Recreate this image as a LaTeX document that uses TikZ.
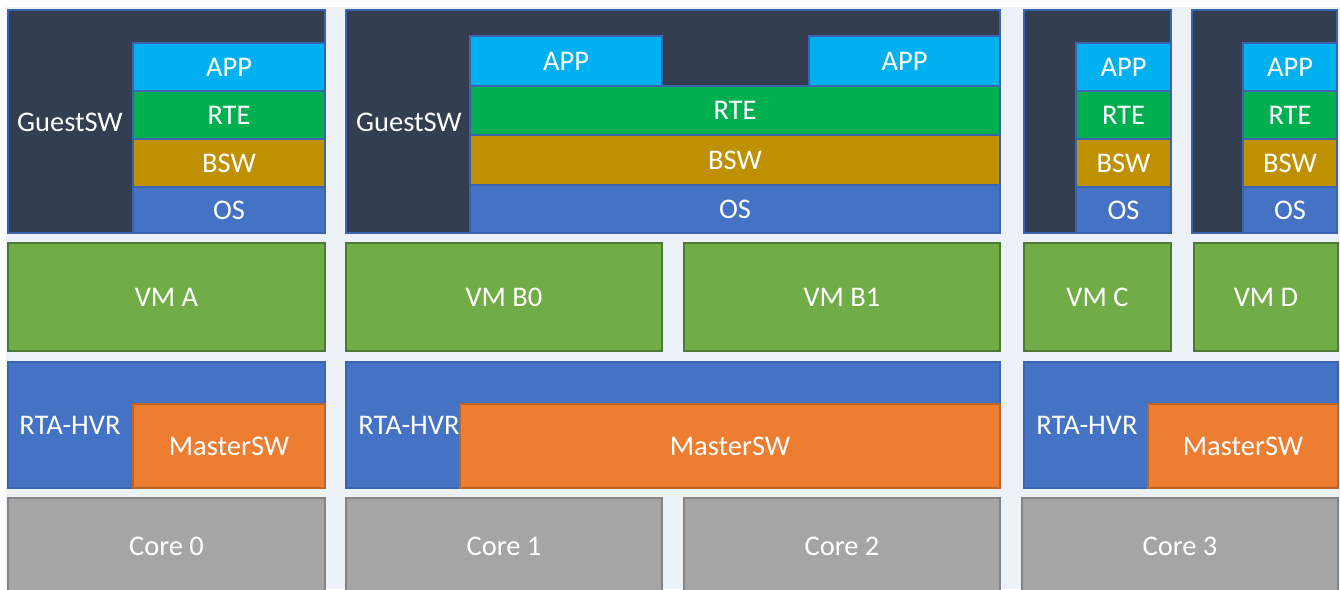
\documentclass[tikz,border=0pt]{standalone}
\usepackage{fontspec}
\setmainfont{Carlito}
\usetikzlibrary{fit}

\definecolor{backg}{HTML}{EDF1F8}
\definecolor{guestbg}{HTML}{333F50}
\definecolor{appc}{HTML}{00B0F0}
\definecolor{rtec}{HTML}{00B050}
\definecolor{bswc}{HTML}{BF9000}
\definecolor{osc}{HTML}{4472C4}
\definecolor{vmc}{HTML}{70AD47}
\definecolor{masterc}{HTML}{ED7D31}
\definecolor{corec}{HTML}{A5A5A5}
\definecolor{blueln}{HTML}{3A64B0}

\tikzset{
  lbl/.style={text=white, inner sep=0pt, font=\fontsize{16.2}{19}\selectfont},
  blk/.style={inner sep=0pt, draw, line width=0.6pt, label={[lbl]center:#1}},
  guest/.style={blk=, fill=guestbg, draw=blueln},
  app/.style={blk=APP, fill=appc, draw=blueln},
  rte/.style={blk=RTE, fill=rtec, draw=blueln},
  bsw/.style={blk=BSW, fill=bswc, draw=blueln},
  os/.style={blk=OS, fill=osc, draw=blueln},
  vm/.style={blk=#1, fill=vmc, draw=vmc!70!black},
  hvr/.style={blk=, fill=osc, draw=blueln},
  master/.style={blk=MasterSW, fill=masterc, draw=masterc!80!black},
  core/.style={blk=#1, fill=corec, draw=corec!80!black}
}

\begin{document}
\begin{tikzpicture}[x=0.02cm, y=-0.02cm]
\useasboundingbox (0,0) rectangle (1340,589);
\fill[white] (0,0) rectangle (1340,589);
\fill[backg] (6,7) rectangle (1340,589);

% guest software
\node[guest, fit={(8,10) (325,233)}] (guestA) {};
\node[lbl] (guestAlbl) at (70,122) {GuestSW};
\node[app, fit={(133,43) (325,91)}] (appA) {};
\node[rte, fit={(133,91) (325,139)}] (rteA) {};
\node[bsw, fit={(133,139) (325,187)}] (bswA) {};
\node[os, fit={(133,187) (325,233)}] (osA) {};

\node[guest, fit={(346,10) (1000,233)}] (guestB) {};
\node[lbl] (guestBlbl) at (409,122) {GuestSW};
\node[app, fit={(470,36) (662,86)}] (appBa) {};
\node[app, fit={(809,36) (1000,86)}] (appBb) {};
\node[rte, fit={(470,86) (1000,135)}] (rteB) {};
\node[bsw, fit={(470,135) (1000,185)}] (bswB) {};
\node[os, fit={(470,185) (1000,233)}] (osB) {};

\node[guest, fit={(1024,10) (1171,233)}] (guestC) {};
\node[app, fit={(1076,43) (1171,91)}] (appC) {};
\node[rte, fit={(1076,91) (1171,139)}] (rteC) {};
\node[bsw, fit={(1076,139) (1171,187)}] (bswC) {};
\node[os, fit={(1076,187) (1171,233)}] (osC) {};

\node[guest, fit={(1192,10) (1337,233)}] (guestD) {};
\node[app, fit={(1243,43) (1337,91)}] (appD) {};
\node[rte, fit={(1243,91) (1337,139)}] (rteD) {};
\node[bsw, fit={(1243,139) (1337,187)}] (bswD) {};
\node[os, fit={(1243,187) (1337,233)}] (osD) {};

% virtual machines
\node[vm=VM A, fit={(8,243) (325,351)}] (vmA) {};
\node[vm=VM B0, fit={(346,243) (662,351)}] (vmB0) {};
\node[vm=VM B1, fit={(684,243) (1000,351)}] (vmB1) {};
\node[vm=VM C, fit={(1024,243) (1171,351)}] (vmC) {};
\node[vm=VM D, fit={(1194,243) (1338,351)}] (vmD) {};

% hypervisor
\node[hvr, fit={(8,362) (325,488)}] (hvrA) {};
\node[lbl] (hvrAlbl) at (70,425) {RTA-HVR};
\node[master, fit={(133,404) (325,488)}] (masterA) {};

\node[hvr, fit={(346,362) (1000,488)}] (hvrB) {};
\node[lbl] (hvrBlbl) at (409,425) {RTA-HVR};
\node[master, fit={(460,404) (1000,488)}] (masterB) {};

\node[hvr, fit={(1024,362) (1338,488)}] (hvrC) {};
\node[lbl] (hvrClbl) at (1087,425) {RTA-HVR};
\node[master, fit={(1148,404) (1338,488)}] (masterC) {};

% cores
\node[core=Core 0, fit={(8,498) (325,594)}] (core0) {};
\node[core=Core 1, fit={(346,498) (662,594)}] (core1) {};
\node[core=Core 2, fit={(684,498) (1000,594)}] (core2) {};
\node[core=Core 3, fit={(1022,498) (1338,594)}] (core3) {};
\end{tikzpicture}
\end{document}
